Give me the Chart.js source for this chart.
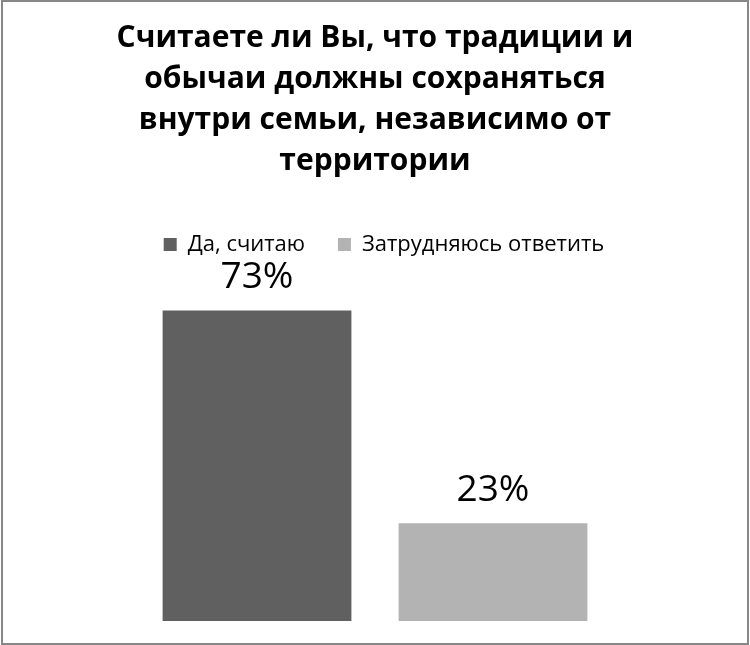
<!DOCTYPE html>
<html>
<head>
<meta charset="utf-8">
<script src="https://cdn.jsdelivr.net/npm/chart.js@4"></script>
<style>
  html, body { margin:0; padding:0; background:#fff; }
  .wrap { position:relative; width:750px; height:645px; }
  .frame { position:absolute; left:1px; top:0; width:748px; height:645px; box-sizing:border-box; border:2px solid #878787; pointer-events:none; }
</style>
</head>
<body>
<div class="wrap">
  <canvas id="chart" width="750" height="645"></canvas>
  <div class="frame"></div>
</div>
<script>
/* ===== Datos ===== */
const titleLines = ['Считаете ли Вы, что традиции и', 'обычаи должны сохраняться', 'внутри семьи, независимо от', 'территории'];
const seriesNames = ['Да, считаю', 'Затрудняюсь ответить'];
const seriesValues = [73, 23];
const seriesColors = ['#606060', '#b3b3b3'];

/* ===== Etiquetas de valor sobre las barras ===== */
const valueLabels = {
    id: 'valueLabels',
    afterDatasetsDraw(chart){
        const ctx = chart.ctx;
        ctx.save();
        ctx.font = '37px "Open Sans"';
        ctx.fillStyle = '#000';
        ctx.textAlign = 'center';
        ctx.textBaseline = 'alphabetic';
        chart.data.datasets.forEach((ds, i) => {
            const bar = chart.getDatasetMeta(i).data[0];
            ctx.fillText(ds.data[0] + '%', bar.x, bar.y - 22);
        });
        ctx.restore();
    }
};

/* la leyenda del original esta un poco corrida a la derecha */
const legendShift = {
    id: 'legendShift',
    afterLayout(chart){
        chart.legend.left += 9;
        chart.legend.right += 9;
    }
};

function draw(){
    new Chart(document.getElementById('chart'), {
        type: 'bar',
        data: {
            labels: [''],
            datasets: seriesNames.map((name, i) => ({
                label: name,
                data: [seriesValues[i]],
                backgroundColor: seriesColors[i],
                borderWidth: 0
            }))
        },
        options: {
            responsive: false,
            animation: false,
            layout: { padding: { left: 80, right: 80, top: 18, bottom: 24 } },
            datasets: { bar: { categoryPercentage: 0.8, barPercentage: 0.8 } },
            plugins: {
                title: {
                    display: true,
                    text: titleLines,
                    color: '#000',
                    font: { family: 'Open Sans', size: 30, weight: 'bold', lineHeight: 1.37 },
                    padding: { top: 0, bottom: 41 }
                },
                legend: {
                    labels: {
                        color: '#000',
                        font: { family: 'Open Sans', size: 22 },
                        boxWidth: 13, boxHeight: 13,
                        padding: 10,
                        generateLabels(chart){
                            return chart.data.datasets.map((ds, i) => ({
                                text: i === 0 ? ds.label + '\u00a0'.repeat(4) : ds.label,
                                fillStyle: ds.backgroundColor,
                                strokeStyle: ds.backgroundColor,
                                lineWidth: 0,
                                datasetIndex: i
                            }));
                        }
                    }
                },
                tooltip: { enabled: false }
            },
            scales: {
                x: { display: false },
                y: { display: false, min: 0, max: 83.6 }
            }
        },
        plugins: [valueLabels, legendShift]
    });
}

Promise.all([
    document.fonts.load('bold 30px "Open Sans"'),
    document.fonts.load('22px "Open Sans"'),
    document.fonts.load('37px "Open Sans"')
]).then(draw, draw);
</script>
</body>
</html>
